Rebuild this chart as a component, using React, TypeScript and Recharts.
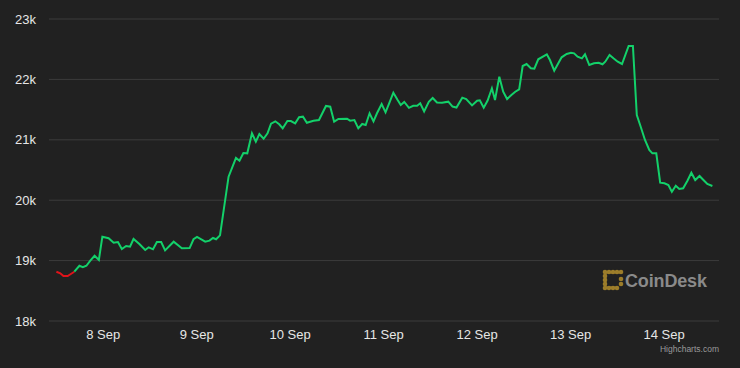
import React from 'react';
import { LineChart, Line, XAxis, YAxis, CartesianGrid } from 'recharts';

// hours since 7 Sep 12:00
const times = [
  0, 1.0, 1.8, 2.9, 3.7, 4.6, 5.9, 6.8, 7.7, 8.7, 9.8, 10.9, 11.8, 13.4, 14.7, 15.8, 16.8, 17.9, 18.9, 19.8,
  21.3, 22.8, 23.7, 24.8, 25.8, 26.9, 27.9, 30.1, 32.2, 34.2, 35.2, 36.1, 38.2, 39.3, 40.2, 41.0, 42.0, 44.2,
  46.1, 47.0, 48.0, 49.0, 50.2, 51.2, 52.1, 53.2, 54.2, 55.1, 56.2, 57.2, 58.1, 59.3, 60.2, 61.3, 62.3, 63.3,
  64.3, 66.0, 67.4, 69.2, 70.3, 71.3, 72.4, 74.6, 75.4, 76.5, 77.5, 78.5, 79.4, 80.4, 81.4, 82.3, 83.5, 84.5,
  85.5, 86.5, 87.6, 88.4, 89.3, 90.5, 91.6, 92.6, 93.4, 94.4, 95.6, 96.6, 97.7, 99.0, 100.6, 101.7, 102.7,
  104.2, 105.2, 106.7, 108.0, 108.7, 109.7, 110.7, 111.8, 112.6, 113.7, 114.7, 115.7, 116.8, 117.8, 118.8,
  119.7, 120.7, 121.8, 122.7, 123.7, 125.9, 126.7, 127.8, 128.6, 129.7, 131.0, 132.1, 132.9, 133.8, 134.9,
  135.7, 136.8, 138.0, 139.2, 140.2, 140.9, 142.0, 143.0, 144.1, 145.2, 146.9, 148.0, 149.0, 150.0, 151.1,
  152.2, 153.0, 154.0, 155.0, 156.1, 157.1, 158.0, 159.0, 159.9, 160.9, 162.0, 163.0, 164.0, 165.1, 166.1,
  167.1, 168.4,
];

const prices = [
  18816, 18790, 18745, 18745, 18778, 18816, 18915, 18890, 18915, 19000, 19080, 19010, 19396, 19370, 19297,
  19308, 19192, 19242, 19230, 19358, 19275, 19175, 19220, 19187, 19308, 19308, 19170, 19313, 19203, 19208,
  19353, 19391, 19313, 19330, 19374, 19353, 19418, 20389, 20699, 20654, 20781, 20776, 21108, 20970, 21096,
  21018, 21108, 21267, 21306, 21257, 21190, 21311, 21311, 21273, 21373, 21383, 21283, 21316, 21328, 21560,
  21548, 21300, 21344, 21349, 21316, 21328, 21190, 21262, 21245, 21439, 21306, 21439, 21593, 21455, 21614,
  21780, 21659, 21576, 21626, 21530, 21563, 21565, 21604, 21470, 21628, 21692, 21617, 21614, 21631, 21550,
  21535, 21698, 21675, 21570, 21647, 21654, 21532, 21650, 21853, 21659, 22045, 21796, 21675, 21742, 21796,
  21836, 22222, 22255, 22184, 22177, 22333, 22416, 22321, 22144, 22238, 22366, 22421, 22442, 22432, 22376,
  22349, 22416, 22238, 22267, 22276, 22250, 22293, 22404, 22349, 22293, 22255, 22553, 22553, 21411, 21217,
  20997, 20831, 20776, 20776, 20290, 20280, 20252, 20141, 20240, 20185, 20197, 20323, 20455, 20334, 20401,
  20334, 20268, 20235,
];

// points up to this index sit below the opening price (drawn red)
const lastBelowOpen = 5;

const dayTicks = [12, 36, 60, 84, 108, 132, 156];
const dayLabels = ['8 Sep', '9 Sep', '10 Sep', '11 Sep', '12 Sep', '13 Sep', '14 Sep'];
const priceTicks = [18000, 19000, 20000, 21000, 22000, 23000];

const data = times.map((t, i) => ({
  t,
  down: i <= lastBelowOpen ? prices[i] : undefined,
  up: i >= lastBelowOpen ? prices[i] : undefined,
}));

const font = '"Liberation Sans", Arial, sans-serif';

// watermark, drawn over the chart like the highcharts credits
const CoinDeskMark = () => {
  const gold = '#9c7d2a';
  const dots: [number, number][] = [
    [0, 0], [4, 0], [8, 0], [12, 0], [16, 0],
    [0, 4], [0, 8], [0, 12], [0, 16],
    [4, 16], [8, 16], [12, 16],
    [16, 7], [16, 12],
  ];
  return (
    <svg width={740} height={368} style={{ position: 'absolute', left: 0, top: 0, pointerEvents: 'none' }}>
      <g transform="translate(603,270)">
        {dots.map(([x, y], i) => (
          <circle key={i} cx={x + 2} cy={y + 2} r={2.3} fill={gold} />
        ))}
        <rect x={1} y={1} width={2.5} height={18} fill={gold} />
        <rect x={1} y={1} width={17} height={2.5} fill={gold} />
        <rect x={1} y={16.5} width={13} height={2.5} fill={gold} />
      </g>
      <text x={625} y={287} fontFamily={font} fontWeight="bold" fontSize={18} fill="#8a8a8a" textLength={82}>
        CoinDesk
      </text>
      <text x={719} y={352} textAnchor="end" fontFamily={font} fontSize={8.5} fill="#9a9a9a">
        Highcharts.com
      </text>
    </svg>
  );
};

export default function App() {
  return (
    <div style={{ position: 'absolute', left: 0, top: 0, width: 740, height: 368, background: '#212121' }}>
      <LineChart width={740} height={368} data={data} margin={{ top: 19, right: 21, left: 0, bottom: 0 }}>
        <CartesianGrid vertical={false} stroke="#3c3c3c" strokeWidth={1} />
        <XAxis
          dataKey="t"
          type="number"
          domain={[-1.9, 170.1]}
          ticks={dayTicks}
          tickFormatter={(v: number) => dayLabels[dayTicks.indexOf(v)]}
          axisLine={false}
          tickLine={false}
          tickSize={0}
          tickMargin={9}
          height={47}
          interval={0}
          tick={{ fontSize: 13, fill: '#e6e6e6', fontFamily: font }}
        />
        <YAxis
          type="number"
          domain={[18000, 23000]}
          ticks={priceTicks}
          tickFormatter={(v: number) => `${v / 1000}k`}
          axisLine={false}
          tickLine={false}
          tickSize={0}
          tickMargin={13}
          width={49}
          interval={0}
          tick={{ fontSize: 13, fill: '#e6e6e6', fontFamily: font }}
        />
        <Line
          type="linear"
          dataKey="down"
          stroke="#e0131a"
          strokeWidth={2}
          dot={false}
          isAnimationActive={false}
        />
        <Line
          type="linear"
          dataKey="up"
          stroke="#13d16a"
          strokeWidth={2}
          dot={false}
          isAnimationActive={false}
        />
      </LineChart>
      <CoinDeskMark />
    </div>
  );
}
